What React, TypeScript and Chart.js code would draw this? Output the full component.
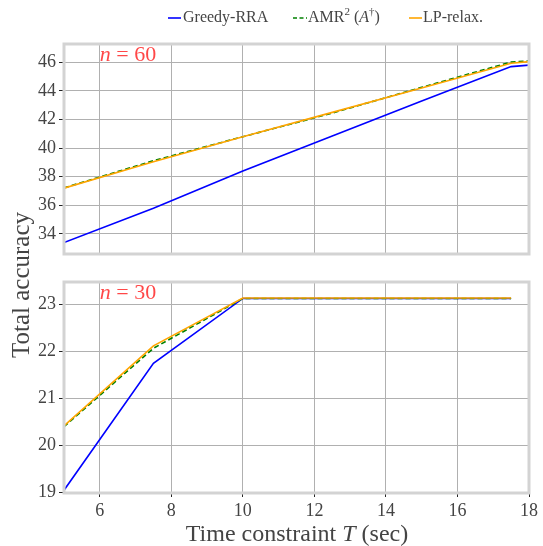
import React, { useEffect, useRef } from "react";
import { Chart, registerables } from "chart.js";
Chart.register(...registerables);

const FONT = "'Liberation Serif', 'Times New Roman', serif";
const TEXT = "#444444";
const GRID = "#b0b0b0";
const FRAME = "#d3d3d3";
const RED = "rgba(255,0,0,0.72)";

const seriesNames = ["Greedy-RRA", "AMR", "LP-relax."];
const seriesColors = ["#0000ff", "#008000", "#ffa500"];

// n = 60 panel
const xTop = [5, 7.5, 10, 12.5, 15, 17.5, 18];
const greedyTop = [33.4, 35.8, 38.4, 40.85, 43.3, 45.7, 45.8];
const amrTop = [37.22, 39.12, 40.8, 42.45, 44.25, 46.02, 46.1];
const lpTop = [37.2, 39.05, 40.8, 42.5, 44.2, 45.93, 46.05];

// n = 30 panel
const xBot = [5, 7.5, 10, 12.5, 15, 17.5];
const greedyBot = [19.05, 21.75, 23.13, 23.13, 23.13, 23.13];
const amrBot = [20.4, 22.07, 23.13, 23.13, 23.13, 23.13];
const lpBot = [20.42, 22.12, 23.14, 23.14, 23.14, 23.14];

const xTicks = [6, 8, 10, 12, 14, 16, 18];
const yTicksTop = [34, 36, 38, 40, 42, 44, 46];
const yTicksBot = [19, 20, 21, 22, 23];

function pts(xs: number[], ys: number[]) {
  return xs.map((x, i) => ({ x, y: ys[i] }));
}

const framePlugin = {
  id: "frame",
  afterDatasetsDraw(chart: any) {
    const { ctx, chartArea: a } = chart;
    ctx.save();
    ctx.strokeStyle = FRAME;
    ctx.lineWidth = 3;
    ctx.strokeRect(a.left, a.top, a.right - a.left, a.bottom - a.top);
    ctx.restore();
  },
};

function nLabelPlugin(nText: string, xVal: number, yVal: number) {
  return {
    id: "nlabel",
    afterDraw(chart: any) {
      const ctx = chart.ctx;
      const x = chart.scales.x.getPixelForValue(xVal);
      const y = chart.scales.y.getPixelForValue(yVal);
      ctx.save();
      ctx.fillStyle = RED;
      ctx.textBaseline = "middle";
      ctx.textAlign = "left";
      ctx.font = `italic 22px ${FONT}`;
      ctx.fillText("n", x, y);
      const w = ctx.measureText("n").width;
      ctx.font = `22px ${FONT}`;
      ctx.fillText(" = " + nText, x + w, y);
      ctx.restore();
    },
  };
}

function drawSegments(ctx: any, segs: { t: string; font: string; dy?: number }[], x: number, y: number) {
  let cx = x;
  for (const s of segs) {
    ctx.font = s.font;
    ctx.fillText(s.t, cx, y + (s.dy || 0));
    cx += ctx.measureText(s.t).width;
  }
  return cx;
}

function segWidth(ctx: any, segs: { t: string; font: string }[]) {
  let w = 0;
  for (const s of segs) {
    ctx.font = s.font;
    w += ctx.measureText(s.t).width;
  }
  return w;
}

const decorPlugin = {
  id: "decor",
  afterDraw(chart: any) {
    const ctx = chart.ctx;
    ctx.save();
    // legend
    const ly = 18;
    const items = [
      { x0: 168, x1: 181, tx: 183, color: seriesColors[0], dash: [] as number[] },
      { x0: 293, x1: 307, tx: 308, color: seriesColors[1], dash: [4, 2.5] },
      { x0: 409, x1: 422, tx: 423, color: seriesColors[2], dash: [] as number[] },
    ];
    items.forEach((it, i) => {
      ctx.strokeStyle = it.color;
      ctx.lineWidth = 1.6;
      ctx.setLineDash(it.dash);
      ctx.beginPath();
      ctx.moveTo(it.x0, ly);
      ctx.lineTo(it.x1, ly);
      ctx.stroke();
      ctx.setLineDash([]);
      ctx.fillStyle = TEXT;
      ctx.textBaseline = "middle";
      ctx.textAlign = "left";
      if (i === 1) {
        drawSegments(
          ctx,
          [
            { t: seriesNames[1], font: `16px ${FONT}` },
            { t: "2", font: `11px ${FONT}`, dy: -6 },
            { t: " (", font: `16px ${FONT}` },
            { t: "A", font: `italic 16px ${FONT}` },
            { t: "\u2020", font: `11px ${FONT}`, dy: -6 },
            { t: ")", font: `16px ${FONT}` },
          ],
          it.tx,
          ly
        );
      } else {
        ctx.font = `16px ${FONT}`;
        ctx.fillText(seriesNames[i], it.tx, ly);
      }
    });
    // y title
    ctx.fillStyle = TEXT;
    ctx.save();
    ctx.translate(22, 285);
    ctx.rotate(-Math.PI / 2);
    ctx.textAlign = "center";
    ctx.textBaseline = "middle";
    ctx.font = `25px ${FONT}`;
    ctx.fillText("Total accuracy", 0, 0);
    ctx.restore();
    // x title
    const segs = [
      { t: "Time constraint ", font: `24px ${FONT}` },
      { t: "T", font: `italic 24px ${FONT}` },
      { t: " (sec)", font: `24px ${FONT}` },
    ];
    const w = segWidth(ctx, segs);
    ctx.textAlign = "left";
    ctx.textBaseline = "middle";
    drawSegments(ctx, segs, 297 - w / 2, 535);
    ctx.restore();
  },
};

function buildConfig(o: any) {
  return {
    type: "line",
    data: {
      datasets: [
        { label: seriesNames[0], data: pts(o.xs, o.greedy), borderColor: seriesColors[0], order: 2 },
        { label: seriesNames[1], data: pts(o.xs, o.amr), borderColor: seriesColors[1], borderDash: [5, 3], order: 1 },
        { label: seriesNames[2], data: pts(o.xs, o.lp), borderColor: seriesColors[2], order: 0 },
      ].map((d) => ({ ...d, borderWidth: 1.6, pointRadius: 0, fill: false, tension: 0 })),
    },
    options: {
      animation: false,
      responsive: false,
      devicePixelRatio: 1,
      layout: { padding: o.padding },
      plugins: { legend: { display: false }, tooltip: { enabled: false } },
      scales: {
        x: {
          type: "linear",
          min: 5,
          max: 18,
          afterBuildTicks: (s: any) => {
            s.ticks = xTicks.map((v) => ({ value: v }));
          },
          afterFit: (s: any) => {
            s.height = o.xHeight;
          },
          ticks: { display: o.showX, font: { family: FONT, size: 18 }, color: TEXT, padding: 3 },
          grid: {
            color: GRID,
            lineWidth: 1,
            drawTicks: o.showX,
            tickLength: 4,
            tickColor: "#222222",
          },
          border: { display: false },
        },
        y: {
          type: "linear",
          min: o.yMin,
          max: o.yMax,
          afterBuildTicks: (s: any) => {
            s.ticks = o.yTicks.map((v: number) => ({ value: v }));
          },
          afterFit: (s: any) => {
            s.width = 64;
          },
          ticks: { font: { family: FONT, size: 18 }, color: TEXT, padding: 3 },
          grid: { color: GRID, lineWidth: 1, drawTicks: true, tickLength: 5, tickColor: "#222222" },
          border: { display: false },
        },
      },
    },
    plugins: [framePlugin, ...o.plugins],
  };
}

export default function App() {
  const topRef = useRef<HTMLCanvasElement>(null);
  const botRef = useRef<HTMLCanvasElement>(null);
  useEffect(() => {
    const c1 = new Chart(
      topRef.current as HTMLCanvasElement,
      buildConfig({
        xs: xTop,
        greedy: greedyTop,
        amr: amrTop,
        lp: lpTop,
        yMin: 32.6,
        yMax: 47.28,
        yTicks: yTicksTop,
        showX: false,
        xHeight: 0,
        padding: { top: 44, bottom: 292, left: 0, right: 14 },
        plugins: [nLabelPlugin("60", 6, 46.47), decorPlugin],
      }) as any
    );
    const c2 = new Chart(
      botRef.current as HTMLCanvasElement,
      buildConfig({
        xs: xBot,
        greedy: greedyBot,
        amr: amrBot,
        lp: lpBot,
        yMin: 18.99,
        yMax: 23.48,
        yTicks: yTicksBot,
        showX: true,
        xHeight: 53,
        padding: { top: 20, bottom: 0, left: 0, right: 14 },
        plugins: [nLabelPlugin("30", 6, 23.24)],
      }) as any
    );
    return () => {
      c1.destroy();
      c2.destroy();
    };
  }, []);
  return (
    <div style={{ position: "absolute", left: 0, top: 0, width: 543, height: 546, background: "#fff" }}>
      <canvas ref={topRef} width={543} height={546} style={{ position: "absolute", left: 0, top: 0 }} />
      <canvas ref={botRef} width={543} height={284} style={{ position: "absolute", left: 0, top: 262 }} />
    </div>
  );
}
